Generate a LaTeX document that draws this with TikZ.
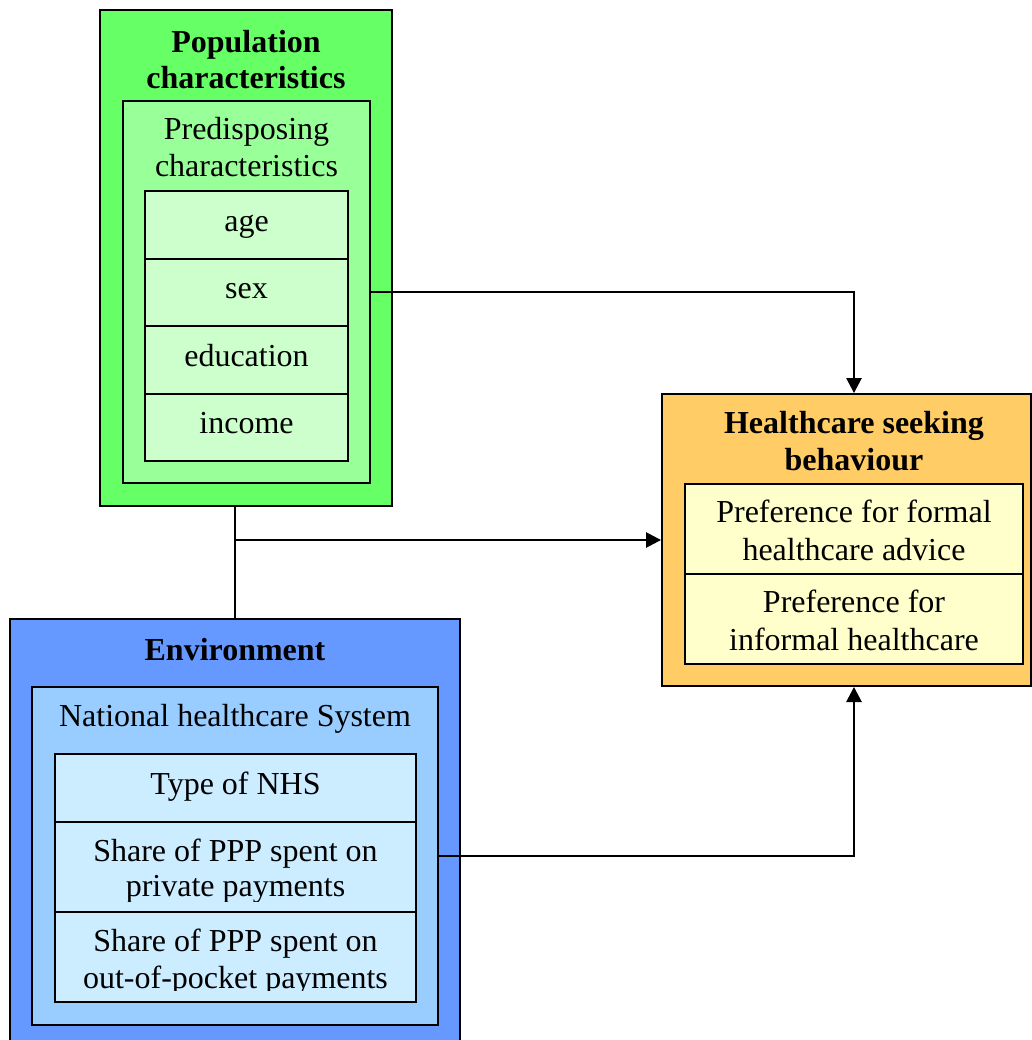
\documentclass[tikz,border=0pt]{standalone}
\usepackage{fontspec}
\setmainfont{Liberation Serif}
\usetikzlibrary{arrows.meta}
\definecolor{gA}{HTML}{66FF66}
\definecolor{gB}{HTML}{99FF99}
\definecolor{gC}{HTML}{CCFFCC}
\definecolor{bA}{HTML}{6699FF}
\definecolor{bB}{HTML}{99CCFF}
\definecolor{bC}{HTML}{CCECFF}
\definecolor{oA}{HTML}{FFCC66}
\definecolor{oB}{HTML}{FFFFCC}
\begin{document}
\begin{tikzpicture}[x=0.75pt,y=-0.75pt,
  box/.style={draw=black, line width=1.5pt, inner sep=0pt},
  txt/.style={anchor=base, inner sep=0pt, font=\fontsize{24}{28}\selectfont},
  ttl/.style={txt, font=\fontsize{24}{28}\selectfont\bfseries},
  conn/.style={line width=1.3pt, draw=black},
  arr/.style={conn, -{Triangle[length=11.25pt, width=11.5pt]}}]
\clip (0,0) rectangle (1032,1040);
% Population characteristics
\node[box, fill=gA, minimum width=219pt, minimum height=372pt] (popO) at (246,258) {};
\node[box, fill=gB, minimum width=185.25pt, minimum height=286.5pt] (predI) at (246.5,292) {};
\node[box, fill=gC, minimum width=152.25pt, minimum height=50.625pt] (age) at (246.5,224.75) {};
\node[box, fill=gC, minimum width=152.25pt, minimum height=50.625pt] (sex) at (246.5,292.25) {};
\node[box, fill=gC, minimum width=152.25pt, minimum height=50.625pt] (edu) at (246.5,359.75) {};
\node[box, fill=gC, minimum width=152.25pt, minimum height=50.625pt] (inc) at (246.5,427.25) {};
\node[ttl] (t1) at (246,52) {Population};
\node[ttl] (t2) at (246,88) {characteristics};
\node[txt] (t3) at (246.5,139.5) {Predisposing};
\node[txt] (t4) at (246.5,176.5) {characteristics};
\node[txt] (t5) at (246.5,231) {age};
\node[txt] (t6) at (246.5,298.5) {sex};
\node[txt] (t7) at (246.5,366.5) {education};
\node[txt] (t8) at (246.5,433.5) {income};
% Environment
\node[box, fill=bA, minimum width=337.5pt, minimum height=323.25pt] (envO) at (235,834.5) {};
\node[box, fill=bB, minimum width=304.5pt, minimum height=253.5pt] (envI) at (235,856) {};
\node[box, fill=bC, minimum width=270.75pt, minimum height=51pt] (nhs) at (235.5,788) {};
\node[box, fill=bC, minimum width=270.75pt, minimum height=67.5pt] (ppriv) at (235.5,867) {};
\node[box, fill=bC, minimum width=270.75pt, minimum height=67.5pt] (poop) at (235.5,957) {};
\node[ttl] (e1) at (235,660) {Environment};
\node[txt] (e2) at (235,726.5) {National healthcare System};
\node[txt] (e3) at (235.5,794) {Type of NHS};
\node[txt] (e4) at (235.5,861.5) {Share of PPP spent on};
\begin{scope}
\clip (56,823) rectangle (415,901.5);
\node[txt] (e5) at (235.5,896.7) {private payments};
\end{scope}
\node[txt] (e6) at (235.5,951.5) {Share of PPP spent on};
\begin{scope}
\clip (56,913) rectangle (415,990);
\node[txt] (e7) at (235.5,988.3) {out-of-pocket payments};
\end{scope}
% Healthcare seeking behaviour
\node[box, fill=oA, minimum width=276.75pt, minimum height=219pt] (hsb) at (846.5,540) {};
\node[box, fill=oB, minimum width=253.5pt, minimum height=67.5pt] (pref1) at (854,529) {};
\node[box, fill=oB, minimum width=253.5pt, minimum height=67.5pt] (pref2) at (854,619) {};
\node[ttl] (h1) at (854,433.3) {Healthcare seeking};
\node[ttl] (h2) at (854,470.7) {behaviour};
\node[txt] (h3) at (854,522.7) {Preference for formal};
\node[txt] (h4) at (854,560) {healthcare advice};
\node[txt] (h5) at (854,612.7) {Preference for};
\node[txt] (h6) at (854,650) {informal healthcare};
% Connectors
\coordinate (jn) at (envO.north |- hsb.west);
\draw[conn] (envO.north) -- (envO.north |- popO.south);
\draw[arr] (jn) -- (hsb.west);
\draw[arr] (predI.east) -| (pref1.north |- hsb.north);
\draw[arr] (envI.east) -| (pref2.south |- hsb.south);
\end{tikzpicture}
\end{document}
